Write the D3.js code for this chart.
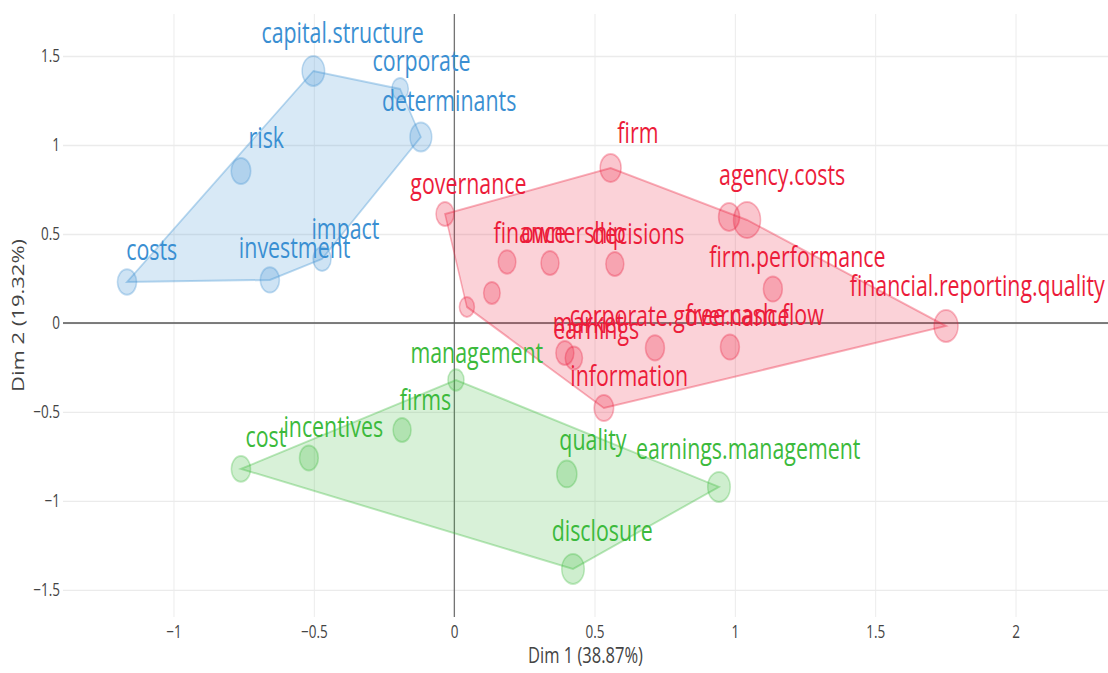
<!DOCTYPE html>
<html>
<head>
<meta charset="utf-8">
<script src="https://d3js.org/d3.v7.min.js"></script>
<style>
body { margin: 0; background: #fff; }
.grid line { stroke: #ebebeb; stroke-width: 1.3; }
.grid path { stroke-width: 0; }
.axis path, .axis line { fill: none; stroke: none; }
.axis text { fill: #444; font-family: "Open Sans", sans-serif; font-size: 18px; }
.lbl { font-family: "Open Sans", sans-serif; font-size: 28.5px; text-anchor: middle; }
</style>
</head>
<body>
<svg id="chart"></svg>
<script>
// cluster 1 (blue)
var blueNames = ["capital.structure", "corporate", "determinants", "risk", "impact", "investment", "costs"];
var blueX = [-0.502, -0.193, -0.119, -0.760, -0.471, -0.657, -1.166];
var blueY = [1.416, 1.315, 1.045, 0.854, 0.360, 0.242, 0.230];
var blueCos2 = [0.70, 0.30, 0.65, 0.50, 0.40, 0.47, 0.47];

// cluster 2 (red)
var redNames = ["firm", "governance", "", "agency.costs", "finance", "ownership", "decisions", "", "",
  "firm.performance", "financial.reporting.quality", "market", "earnings", "corporate.governance",
  "free.cash.flow", "information"];
var redX = [0.557, -0.033, 0.979, 1.043, 0.188, 0.341, 0.572, 0.134, 0.045, 1.135, 1.752, 0.394, 0.426, 0.715, 0.982, 0.533];
var redY = [0.871, 0.612, 0.596, 0.579, 0.343, 0.337, 0.331, 0.169, 0.090, 0.191, -0.017, -0.169, -0.197, -0.140, -0.135, -0.478];
var redCos2 = [0.60, 0.40, 0.60, 1.00, 0.37, 0.40, 0.40, 0.30, 0.20, 0.46, 0.80, 0.40, 0.35, 0.46, 0.46, 0.50];

// cluster 3 (green)
var greenNames = ["management", "firms", "incentives", "cost", "quality", "earnings.management", "disclosure"];
var greenX = [0.006, -0.186, -0.518, -0.760, 0.401, 0.943, 0.423];
var greenY = [-0.320, -0.601, -0.758, -0.820, -0.848, -0.921, -1.382];
var greenCos2 = [0.27, 0.40, 0.45, 0.48, 0.54, 0.70, 0.70];

var xTicks = [-1, -0.5, 0, 0.5, 1, 1.5, 2];
var yTicks = [-1.5, -1, -0.5, 0, 0.5, 1, 1.5];
var xTitle = "Dim 1 (38.87%)";
var yTitle = "Dim 2 (19.32%)";

var groups = [
  { names: blueNames, x: blueX, y: blueY, w: blueCos2, color: "#3a8fd2" },
  { names: redNames, x: redX, y: redY, w: redCos2, color: "#ec1c3a" },
  { names: greenNames, x: greenX, y: greenY, w: greenCos2, color: "#3cba3c" }
];

// the picture is horizontally compressed, so draw on a wider canvas and squeeze it
var squeeze = 0.75,
    width = 1108 / squeeze,
    height = 673,
    margin = {top: 14, right: 0, bottom: 56, left: 84};

var svg = d3.select("#chart")
    .attr("width", 1108)
    .attr("height", height)
    .attr("viewBox", "0 0 " + width + " " + height)
    .attr("preserveAspectRatio", "none");

var x = d3.scaleLinear()
    .domain([-1.394, 2.329])
    .range([margin.left, width - margin.right]);

var y = d3.scaleLinear()
    .domain([-1.652, 1.736])
    .range([height - margin.bottom, margin.top]);

var r = d3.scaleLinear().domain([0, 1]).range([8, 18]);

var fmt = function(d) { return d < 0 ? "\u2212" + Math.abs(d) : "" + d; };

// grid
svg.append("g")
    .attr("class", "grid")
    .attr("transform", "translate(0," + (height - margin.bottom) + ")")
    .call(d3.axisBottom(x).tickValues(xTicks).tickFormat("").tickSize(-(height - margin.bottom - margin.top)));

svg.append("g")
    .attr("class", "grid")
    .attr("transform", "translate(" + margin.left + ",0)")
    .call(d3.axisLeft(y).tickValues(yTicks).tickFormat("").tickSize(-(width - margin.left - margin.right)));

// zero lines
svg.append("line")
    .attr("x1", x(0)).attr("x2", x(0))
    .attr("y1", margin.top).attr("y2", height - margin.bottom)
    .attr("stroke", "#555").attr("stroke-width", 1.4);
svg.append("line")
    .attr("x1", margin.left).attr("x2", width - margin.right)
    .attr("y1", y(0)).attr("y2", y(0))
    .attr("stroke", "#555").attr("stroke-width", 1.4);

// axes
svg.append("g")
    .attr("class", "axis")
    .attr("transform", "translate(0," + (height - margin.bottom) + ")")
    .call(d3.axisBottom(x).tickValues(xTicks).tickFormat(fmt).tickSize(0).tickPadding(8));

svg.append("g")
    .attr("class", "axis")
    .attr("transform", "translate(" + (margin.left - 4) + ",0)")
    .call(d3.axisLeft(y).tickValues(yTicks).tickFormat(fmt).tickSize(0).tickPadding(0));

svg.append("text")
    .attr("x", (margin.left + width - margin.right) / 2)
    .attr("y", height - 10)
    .attr("text-anchor", "middle")
    .style("font", "22px 'Open Sans', sans-serif")
    .attr("fill", "#444")
    .text(xTitle);

svg.append("text")
    .attr("transform", "translate(24," + ((margin.top + height - margin.bottom) / 2) + ") rotate(-90)")
    .attr("text-anchor", "middle")
    .attr("dy", "0.35em")
    .style("font", "22px 'Open Sans', sans-serif")
    .attr("fill", "#444")
    .text(yTitle);

// clusters
groups.forEach(function(g) {
  var pts = g.names.map(function(n, i) {
    return { name: n, px: x(g.x[i]), py: y(g.y[i]), r: r(g.w[i]) };
  });
  var hull = d3.polygonHull(pts.map(function(p) { return [p.px, p.py]; }));

  var layer = svg.append("g");

  layer.append("path")
      .attr("d", "M" + hull.join("L") + "Z")
      .attr("fill", g.color)
      .attr("fill-opacity", 0.2)
      .attr("stroke", g.color)
      .attr("stroke-opacity", 0.35)
      .attr("stroke-width", 2);

  layer.selectAll("circle")
    .data(pts)
    .enter().append("circle")
      .attr("cx", function(d) { return d.px; })
      .attr("cy", function(d) { return d.py; })
      .attr("r", function(d) { return d.r; })
      .attr("fill", g.color)
      .attr("fill-opacity", 0.25)
      .attr("stroke", g.color)
      .attr("stroke-opacity", 0.3)
      .attr("stroke-width", 2);

  layer.selectAll("text")
    .data(pts.filter(function(d) { return d.name !== ""; }))
    .enter().append("text")
      .attr("class", "lbl")
      .attr("x", function(d) { return d.px + 2.6 * d.r; })
      .attr("y", function(d) { return d.py - (2.5 * d.r - 10); })
      .attr("fill", g.color)
      .text(function(d) { return d.name; });
});
</script>
</body>
</html>
